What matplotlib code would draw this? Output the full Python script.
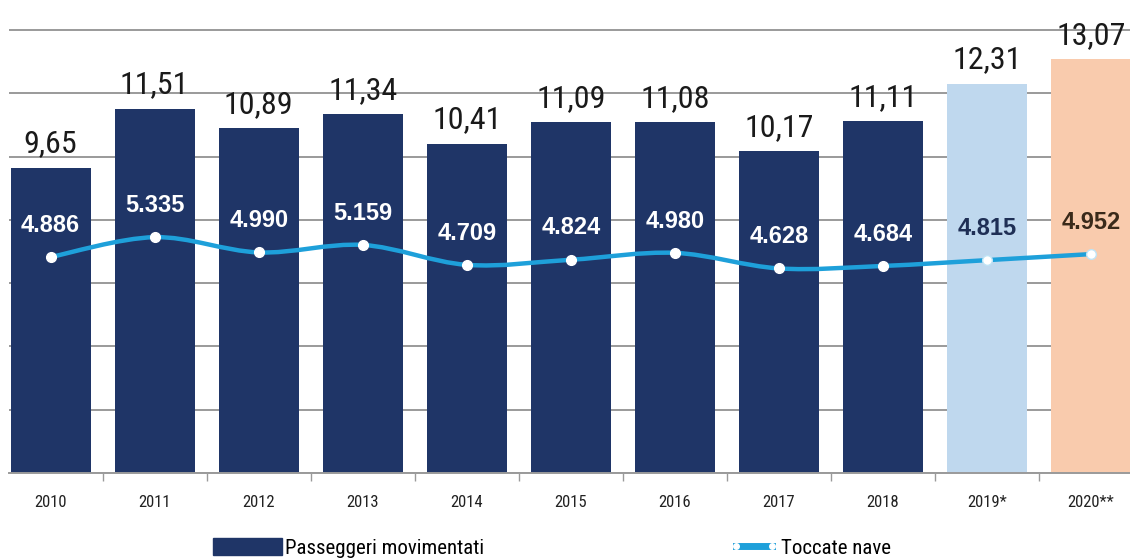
import matplotlib
matplotlib.use("Agg")
import matplotlib.pyplot as plt
import numpy as np
from matplotlib.path import Path
from matplotlib.patches import PathPatch, Patch
from matplotlib.lines import Line2D

narrow = ['Liberation Sans Narrow', 'Arial Narrow', 'Roboto Condensed', 'Archivo Narrow',
          'PT Sans Narrow', 'DejaVu Sans']
plt.rcParams['font.family'] = narrow

years = ['2010', '2011', '2012', '2013', '2014', '2015', '2016', '2017', '2018', '2019*', '2020**']
passeggeri = [9.65, 11.51, 10.89, 11.34, 10.41, 11.09, 11.08, 10.17, 11.11, 12.31, 13.07]
passeggeri_lbl = ['9,65', '11,51', '10,89', '11,34', '10,41', '11,09', '11,08', '10,17', '11,11', '12,31', '13,07']
toccate = [4.886, 5.335, 4.990, 5.159, 4.709, 4.824, 4.980, 4.628, 4.684, 4.815, 4.952]
toccate_lbl = ['4.886', '5.335', '4.990', '5.159', '4.709', '4.824', '4.980', '4.628', '4.684', '4.815', '4.952']

navy = '#1f3567'
bar_colors = [navy] * 9 + ['#bfd8ee', '#f9cbad']
lbl2_colors = ['white'] * 9 + ['#1f2f55', '#3a2a1a']
line_col = '#1ea0da'

fig = plt.figure(figsize=(11.3, 5.6), dpi=100)
ax = fig.add_axes([9 / 1130, 87 / 560, 1121 / 1130, 473 / 560])
x = np.arange(len(years))

ax.bar(x, passeggeri, width=0.77, color=bar_colors, zorder=2)
for xi, v, t in zip(x, passeggeri, passeggeri_lbl):
    ax.text(xi, v + 0.3, t, ha='center', va='bottom', fontsize=23, color='#1a1a1a', zorder=5)

# secondary axis for the line
ax2 = ax.twinx()
ax2.axis('off')

pts = np.column_stack([x, toccate]).astype(float)
verts = [pts[0]]
codes = [Path.MOVETO]
n = len(pts)
for i in range(n - 1):
    p0 = pts[max(i - 1, 0)]
    p1 = pts[i]
    p2 = pts[i + 1]
    p3 = pts[min(i + 2, n - 1)]
    c1 = p1 + (p2 - p0) / 6
    c2 = p2 - (p3 - p1) / 6
    verts += [c1, c2, p2]
    codes += [Path.CURVE4] * 3
ax2.add_patch(PathPatch(Path(verts, codes), facecolor='none', edgecolor=line_col,
                        linewidth=3.2, zorder=3))
ax2.plot(x[:9], toccate[:9], 'o', ms=7, mfc='white', mec='white', zorder=4)
ax2.plot(x[9:], toccate[9:], 'o', ms=7, mfc='white', mec='#bfe3f5', mew=1, zorder=4)
for xi, v, t, c in zip(x, toccate, toccate_lbl, lbl2_colors):
    ax2.text(xi, v + 0.72, t, ha='center', va='center', fontsize=17, fontweight='bold',
             color=c, family=['Liberation Sans', 'DejaVu Sans'], zorder=5)

ax.set_yticks(np.arange(0, 15, 2))
ax.yaxis.grid(True, color='#9a9a9a', linewidth=1.4)
ax.set_axisbelow(True)
ax.tick_params(axis='y', which='both', left=False, right=False, labelleft=False, labelright=False)
for s in ['top', 'right', 'left']:
    ax.spines[s].set_visible(False)
ax.spines['bottom'].set_color('#9a9a9a')
ax.spines['bottom'].set_linewidth(1.4)

ax.set_xticks(x)
ax.set_xticklabels(years, fontsize=12, color='#222222')
ax.set_xticks(np.arange(-0.5, 10.6, 1), minor=True)
ax.tick_params(axis='x', which='major', length=0, pad=16)
ax.tick_params(axis='x', which='minor', length=6, color='#9a9a9a', width=1)

# limits last, set_xticks would widen them
ax.set_ylim(0, 14.95)
ax2.set_ylim(0, 10.70)
ax.set_xlim(-0.40, 10.375)

leg1 = fig.legend([Patch(facecolor=navy, edgecolor=navy)], ['Passeggeri movimentati'],
                  loc='center left', bbox_to_anchor=(213 / 1130, 12 / 560), frameon=False,
                  fontsize=15, handlelength=3.3, handleheight=0.9, handletextpad=0.15,
                  borderpad=0, borderaxespad=0)
leg2 = fig.legend([Line2D([0], [0], color=line_col, linewidth=5, marker='o', ms=4,
                          mfc='white', mec='white')], ['Toccate nave'],
                  loc='center left', bbox_to_anchor=(730 / 1130, 12 / 560), frameon=False,
                  fontsize=15, handlelength=2.3, handletextpad=0.15, numpoints=2,
                  borderpad=0, borderaxespad=0)

fig.savefig('out.png', dpi=100)
